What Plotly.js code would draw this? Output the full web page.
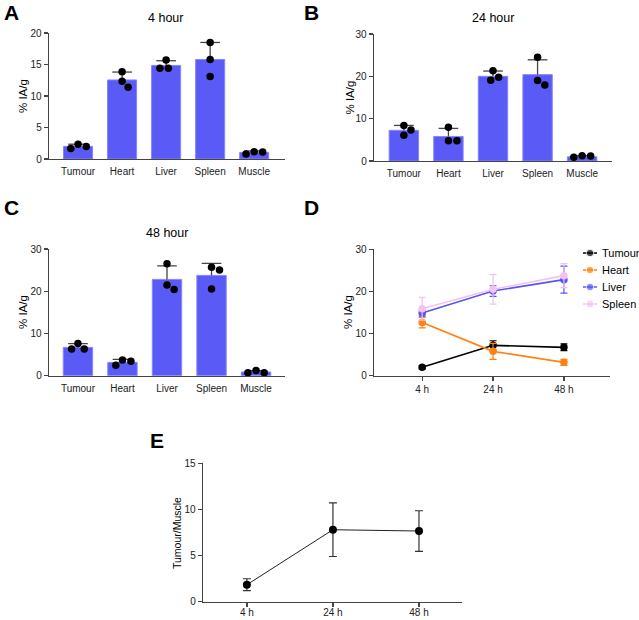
<!DOCTYPE html>
<html><head><meta charset="utf-8">
<script src="https://cdn.plot.ly/plotly-3.0.1.min.js"></script>
<style>body{margin:0;background:#fff}#chart{width:639px;height:620px}</style>
</head><body><div id="chart"></div>
<script>
// ---------- DATA ----------
const organs = ['Tumour', 'Heart', 'Liver', 'Spleen', 'Muscle'];
const timeLabels = ['4 h', '24 h', '48 h'];

// Panel A: 4 hour (% IA/g)
const mean4h = [2.0, 12.55, 14.85, 15.8, 1.05];
const sd4h   = [0.35, 1.25, 0.75, 2.7, 0.22];
const pts4h  = [[2.35, 2.0, 1.65], [13.85, 12.35, 11.4], [15.7, 14.4, 14.4], [18.5, 15.8, 13.1], [1.17, 1.1, 0.8]];

// Panel B: 24 hour
const mean24h = [7.25, 5.8, 20.0, 20.4, 1.0];
const sd24h   = [1.15, 1.9, 1.25, 3.5, 0.25];
const pts24h  = [[8.4, 7.3, 6.1], [7.95, 4.8, 4.8], [21.3, 19.8, 19.1], [24.5, 19.0, 17.95], [1.26, 1.18, 0.87]];

// Panel C: 48 hour
const mean48h = [6.7, 3.15, 22.8, 23.75, 0.87];
const sd48h   = [0.9, 0.7, 3.2, 2.85, 0.3];
const pts48h  = [[7.65, 6.3, 6.3], [3.7, 3.45, 2.45], [26.5, 21.5, 20.4], [25.7, 25.0, 20.5], [1.26, 0.7, 0.7]];

// Panel D: time course (% IA/g)
const seriesNames = ['Tumour', 'Heart', 'Liver', 'Spleen'];
const tumourMean = [1.98, 7.2, 6.73],  tumourSd = [0.35, 1.1, 0.8];
const heartMean  = [12.6, 5.78, 3.17], heartSd  = [1.25, 1.9, 0.7];
const liverMean  = [14.9, 20.1, 22.8], liverSd  = [0.75, 1.25, 3.2];
const spleenMean = [15.9, 20.5, 23.75], spleenSd = [2.7, 3.5, 2.85];

// Panel E: Tumour/Muscle ratio
const ratioMean = [1.84, 7.8, 7.66];
const ratioSd   = [0.65, 2.9, 2.2];

// ---------- LAYOUT HELPERS ----------
const W = 639, H = 620;
const FONT = 'Liberation Sans, Arial, sans-serif';
const dx = (l, r) => [l / W, r / W];
const dy = (top, bottom) => [1 - bottom / H, 1 - top / H];

const boxes = {
  A: {x: dx(49, 285),  y: dy(33, 159),    xr: [-0.66, 4.7],  yr: [0, 20]},
  B: {x: dx(374, 612), y: dy(34, 161),    xr: [-0.67, 4.67], yr: [0, 30]},
  C: {x: dx(49, 285),  y: dy(249, 375.7), xr: [-0.65, 4.65], yr: [0, 30]},
  D: {x: dx(374, 610), y: dy(249.3, 375.7), xr: [-0.68, 2.65], yr: [0, 30]},
  E: {x: dx(203, 462), y: dy(463.3, 601.7), xr: [-0.51, 2.5], yr: [0, 15]}
};

const lineCol = '#444';
function xAxis(b, labels, withTicks) {
  return {domain: b.x, range: b.xr, showgrid: false, zeroline: false, showline: true,
    linecolor: lineCol, linewidth: 1.3, ticks: withTicks ? 'outside' : '', ticklen: 4,
    tickwidth: 1.3, tickcolor: lineCol, tickmode: 'array',
    tickvals: labels.map((_, i) => i), ticktext: labels,
    ticklabelstandoff: withTicks ? 0 : 3,
    tickfont: {family: FONT, size: 10, color: '#222'}, fixedrange: true};
}
function yAxis(b, anchor, dtick) {
  return {domain: b.y, range: b.yr, anchor: anchor, showgrid: false, zeroline: false,
    showline: true, linecolor: lineCol, linewidth: 1.3, ticks: 'outside', ticklen: 4,
    tickwidth: 1.3, tickcolor: lineCol, dtick: dtick, tick0: 0,
    tickfont: {family: FONT, size: 10, color: '#222'}, fixedrange: true};
}

// simple beeswarm: horizontal offsets in px so dots don't collide
function swarm(values, pxPerUnitY, diam) {
  const order = values.map((v, i) => i).sort((a, b) => values[b] - values[a]);
  const placed = [];
  const off = new Array(values.length).fill(0);
  order.forEach(i => {
    const y = values[i] * pxPerUnitY;
    const cands = [0];
    placed.forEach(p => {
      const d = Math.abs(p.y - y);
      if (d < diam) { const h = Math.sqrt(diam * diam - d * d); cands.push(p.x + h, p.x - h); }
    });
    cands.sort((a, b) => Math.abs(a) - Math.abs(b) || b - a);
    let chosen = 0;
    for (const c of cands) {
      if (placed.every(p => Math.hypot(p.x - c, p.y - y) >= diam - 0.01)) { chosen = c; break; }
    }
    placed.push({x: chosen, y: y});
    off[i] = chosen;
  });
  return off;
}

const barFill = '#5A5AF6', barEdge = '#8585FF';
const traces = [];
function barPanel(b, xa, ya, means, sds, pts) {
  const idx = organs.map((_, i) => i);
  traces.push({type: 'bar', x: idx, y: means, xaxis: xa, yaxis: ya, width: 0.66,
    marker: {color: barFill, line: {color: barEdge, width: 1}}, showlegend: false, hoverinfo: 'skip'});
  // upward SD: stems + caps
  const sx = [], sy = [];
  idx.forEach(i => { sx.push(i, i, null); sy.push(means[i], means[i] + sds[i], null); });
  traces.push({type: 'scatter', mode: 'lines', x: sx, y: sy, xaxis: xa, yaxis: ya,
    line: {color: lineCol, width: 1.3}, showlegend: false, hoverinfo: 'skip'});
  traces.push({type: 'scatter', mode: 'markers', x: idx, y: means.map((m, i) => m + sds[i]),
    xaxis: xa, yaxis: ya, marker: {symbol: 'line-ew', size: 14, line: {color: lineCol, width: 1.3}},
    showlegend: false, hoverinfo: 'skip'});
  // individual points
  const pxX = (b.x[1] - b.x[0]) * W / (b.xr[1] - b.xr[0]);
  const pxY = (b.y[1] - b.y[0]) * H / (b.yr[1] - b.yr[0]);
  const px = [], py = [];
  pts.forEach((vals, i) => {
    const off = swarm(vals, pxY, 8.5);
    vals.forEach((v, k) => { px.push(i + off[k] / pxX); py.push(v); });
  });
  traces.push({type: 'scatter', mode: 'markers', x: px, y: py, xaxis: xa, yaxis: ya,
    marker: {color: '#000', size: 7.5}, showlegend: false, hoverinfo: 'skip', cliponaxis: false});
}

barPanel(boxes.A, 'x', 'y', mean4h, sd4h, pts4h);
barPanel(boxes.B, 'x2', 'y2', mean24h, sd24h, pts24h);
barPanel(boxes.C, 'x3', 'y3', mean48h, sd48h, pts48h);

// Panel D
const tIdx = timeLabels.map((_, i) => i);
const seriesColors = ['#000000', '#FF8212', '#5555F5', '#F2C2F2'];
const seriesData = [[tumourMean, tumourSd], [heartMean, heartSd], [liverMean, liverSd], [spleenMean, spleenSd]];
seriesData.forEach((sd, k) => {
  const c = seriesColors[k];
  traces.push({type: 'scatter', mode: 'lines+markers', name: seriesNames[k], x: tIdx, y: sd[0],
    xaxis: 'x4', yaxis: 'y4', line: {color: c, width: 1.6},
    marker: {color: c, size: 7.5},
    error_y: {type: 'data', array: sd[1], visible: true, color: c, thickness: 1.2, width: 3.5},
    showlegend: false, cliponaxis: false});
});

// Legend for panel D (drawn on a helper axis pair: x 0..1 = swatch, y = entry index)
seriesNames.forEach((nm, k) => {
  traces.push({type: 'scatter', mode: 'lines+markers', x: [0, 0.5, 1], y: [k, k, k],
    xaxis: 'x6', yaxis: 'y6', line: {color: seriesColors[k], width: 1.6},
    marker: {color: seriesColors[k], size: [0, 7.5, 0]}, showlegend: false, hoverinfo: 'skip'});
});

// Panel E
traces.push({type: 'scatter', mode: 'lines+markers', x: tIdx, y: ratioMean, xaxis: 'x5', yaxis: 'y5',
  line: {color: '#222', width: 1}, marker: {color: '#000', size: 8},
  error_y: {type: 'data', array: ratioSd, visible: true, color: '#333', thickness: 1.2, width: 4},
  showlegend: false, cliponaxis: false});

const ann = [];
function label(text, x, y, size, opts) {
  ann.push(Object.assign({text: text, xref: 'paper', yref: 'paper', x: x / W, y: 1 - y / H,
    xanchor: 'center', yanchor: 'middle',
    showarrow: false, font: {family: FONT, size: size, color: '#000'}}, opts || {}));
}
// panel letters
label('<b>A</b>', 2, 12, 21, {xanchor: 'left'});
label('<b>B</b>', 302, 12, 21, {xanchor: 'left'});
label('<b>C</b>', 2, 208, 21, {xanchor: 'left'});
label('<b>D</b>', 302, 208, 21, {xanchor: 'left'});
label('<b>E</b>', 148, 440, 21, {xanchor: 'left'});
// panel titles
label('4 hour', 166, 18, 12.5);
label('24 hour', 493, 18, 12.5);
label('48 hour', 167, 233, 12.5);
// y titles
label('% IA/g', 23, 96, 11.5, {textangle: -90});
label('% IA/g', 350, 97.5, 11.5, {textangle: -90});
label('% IA/g', 23, 312, 11.5, {textangle: -90});
label('% IA/g', 348, 312, 11.5, {textangle: -90});
label('Tumour/Muscle', 177, 533, 10.5, {textangle: -90});
// legend texts (entry index k -> legend row)
seriesNames.forEach((nm, k) => {
  ann.push({text: nm, xref: 'paper', yref: 'y6', x: 600 / W, y: k, xanchor: 'left', yanchor: 'middle',
    showarrow: false, font: {family: FONT, size: 11, color: '#000'}});
});

const layout = {
  width: W, height: H, margin: {l: 0, r: 0, t: 0, b: 0},
  paper_bgcolor: '#fff', plot_bgcolor: 'rgba(0,0,0,0)',
  font: {family: FONT, color: '#222'},
  showlegend: false,
  xaxis: Object.assign(xAxis(boxes.A, organs, false), {anchor: 'y'}), yaxis: yAxis(boxes.A, 'x', 5),
  xaxis2: Object.assign(xAxis(boxes.B, organs, false), {anchor: 'y2'}), yaxis2: yAxis(boxes.B, 'x2', 10),
  xaxis3: Object.assign(xAxis(boxes.C, organs, false), {anchor: 'y3'}), yaxis3: yAxis(boxes.C, 'x3', 10),
  xaxis4: Object.assign(xAxis(boxes.D, timeLabels, true), {anchor: 'y4'}), yaxis4: yAxis(boxes.D, 'x4', 10),
  xaxis5: Object.assign(xAxis(boxes.E, timeLabels, true), {anchor: 'y5', ticklabelstandoff: -3}), yaxis5: yAxis(boxes.E, 'x5', 5),
  // helper axes for the legend: rows 17 px apart, first row centred at y = 253 px
  xaxis6: {domain: dx(583, 597), range: [0, 1], visible: false, anchor: 'y6', fixedrange: true},
  yaxis6: {domain: dy(244.5, 312.5), range: [3.5, -0.5], visible: false, anchor: 'x6', fixedrange: true},
  annotations: ann
};

Plotly.newPlot('chart', traces, layout, {displayModeBar: false, staticPlot: true});
</script>
</body></html>
